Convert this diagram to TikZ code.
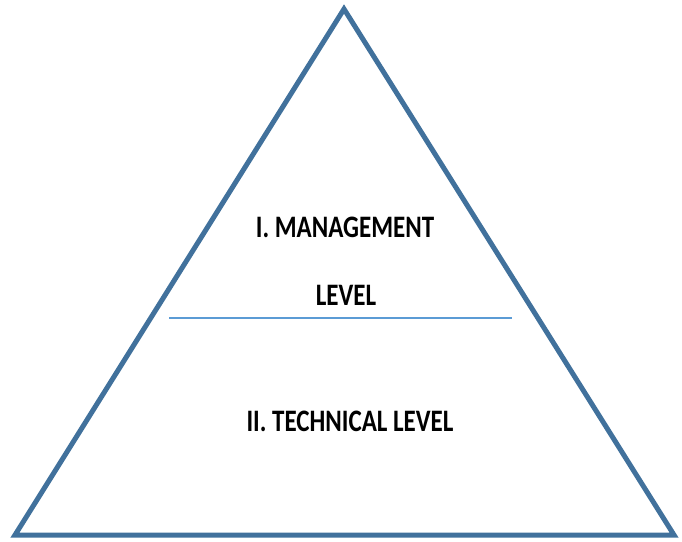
\documentclass[tikz,border=0pt]{standalone}
\usepackage{fontspec}
\setmainfont{Carlito}
\definecolor{triblue}{RGB}{65,113,156}
\definecolor{midblue}{RGB}{91,155,213}
\begin{document}
\begin{tikzpicture}[x=1pt,y=-1pt,
  lbl/.style={font=\bfseries\fontsize{25}{25}\selectfont, anchor=base, inner sep=0pt}]
\useasboundingbox (0,0) rectangle (682,541);
\coordinate (top) at (344,9);
\coordinate (bl) at (15,535);
\coordinate (br) at (674,535);
\draw[triblue, line width=5pt, line join=miter] (top) -- (br) -- (bl) -- cycle;
\coordinate (ml) at (169,318);
\coordinate (mr) at (512,318);
\draw[midblue, line width=2.5pt] (ml) -- (mr);
\node[lbl] (t1) at (345,237) {\scalebox{1}[1.25]{I. MANAGEMENT}};
\node[lbl] (t2) at (346,305) {\scalebox{1}[1.25]{LEVEL}};
\node[lbl] (t3) at (350,431) {\scalebox{1}[1.25]{II. TECHNICAL LEVEL}};
\end{tikzpicture}
\end{document}
